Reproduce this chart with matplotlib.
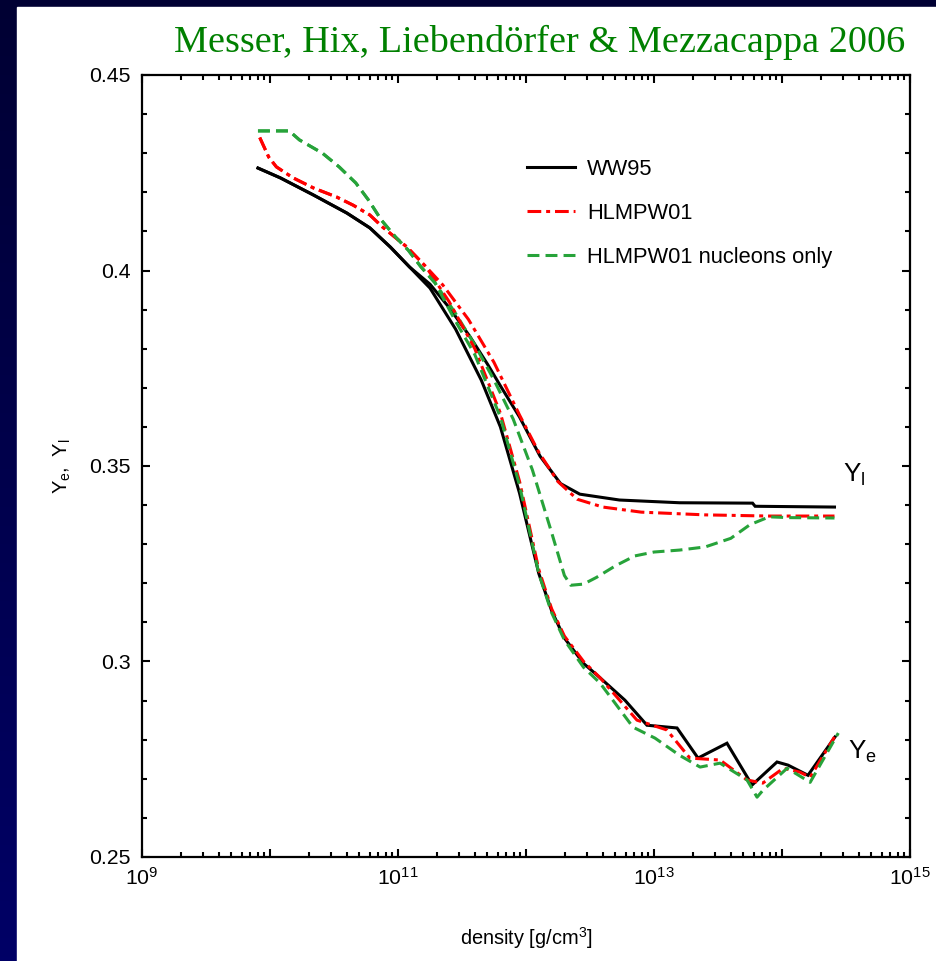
import matplotlib
matplotlib.use("Agg")
import matplotlib.pyplot as plt
import numpy as np
from matplotlib import font_manager, ticker

# Y_e / Y_l versus central density
ww95_yl_logrho = [9.906, 10.08, 10.34, 10.60, 10.78, 10.94, 11.09, 11.25, 11.4, 11.56, 11.7, 11.8, 11.95,
                  12.11, 12.27, 12.42, 12.73, 13.2, 13.77, 13.79, 14.41]
ww95_yl = [0.4262, 0.4237, 0.4193, 0.4147, 0.4109, 0.406, 0.4009, 0.3965, 0.3905, 0.3832, 0.376, 0.3705, 0.3625,
           0.3525, 0.3455, 0.3428, 0.3413, 0.3406, 0.3405, 0.3397, 0.3395]

ww95_ye_logrho = [9.906, 10.08, 10.34, 10.60, 10.78, 10.94, 11.09, 11.25, 11.45, 11.65, 11.8, 11.95, 12.1,
                  12.2, 12.3, 12.45, 12.58, 12.773, 12.945, 13.18, 13.344, 13.57, 13.766, 13.961, 14.047,
                  14.203, 14.414]
ww95_ye = [0.4262, 0.4237, 0.4193, 0.4147, 0.4109, 0.406, 0.4009, 0.3955, 0.385, 0.372, 0.36, 0.343, 0.3225,
           0.313, 0.306, 0.2995, 0.2958, 0.2901, 0.2837, 0.2830, 0.2753, 0.2791, 0.2684, 0.2743, 0.2735,
           0.2709, 0.2807]

hlm_yl_logrho = [9.92, 9.99, 10.05, 10.18, 10.34, 10.52, 10.65, 10.78, 10.88, 11.07, 11.22, 11.35, 11.55,
                 11.75, 11.95, 12.1, 12.25, 12.4, 12.6, 12.9, 13.4, 13.9, 14.41]
hlm_yl = [0.434, 0.429, 0.4265, 0.4237, 0.4211, 0.4188, 0.4167, 0.4142, 0.4111, 0.406, 0.4009, 0.3963, 0.3875,
          0.3765, 0.363, 0.3535, 0.346, 0.3415, 0.3395, 0.3382, 0.3375, 0.3372, 0.3372]

hlm_ye_logrho = [9.92, 9.99, 10.05, 10.18, 10.34, 10.52, 10.65, 10.78, 10.88, 11.07, 11.22, 11.4, 11.6,
                 11.8, 11.95, 12.1, 12.2, 12.3, 12.45, 12.58, 12.867, 13.1, 13.28, 13.516, 13.727, 13.85,
                 14.01, 14.14, 14.22, 14.41]
hlm_ye = [0.434, 0.429, 0.4265, 0.4237, 0.4211, 0.4188, 0.4167, 0.4142, 0.4111, 0.406, 0.4009, 0.392, 0.380,
          0.3635, 0.346, 0.3235, 0.3135, 0.3065, 0.300, 0.2958, 0.285, 0.2825, 0.2753, 0.2748, 0.2697, 0.2689,
          0.2727, 0.2717, 0.2704, 0.2807]

nuc_yl_logrho = [9.906, 10.15, 10.23, 10.41, 10.54, 10.67, 10.77, 10.87, 10.98, 11.08, 11.18, 11.29, 11.45,
                 11.6, 11.75, 11.9, 12.05, 12.2, 12.3, 12.35, 12.45, 12.55, 12.7, 12.85, 13.0, 13.2, 13.4,
                 13.6, 13.75, 13.9, 14.05, 14.41]
nuc_yl = [0.4357, 0.4357, 0.4334, 0.43, 0.4265, 0.4224, 0.418, 0.4129, 0.4086, 0.4052, 0.4009, 0.3968, 0.389,
          0.381, 0.372, 0.362, 0.349, 0.333, 0.322, 0.3195, 0.3198, 0.3215, 0.3245, 0.327, 0.328, 0.3285,
          0.3293, 0.3315, 0.335, 0.337, 0.3368, 0.3367]

nuc_ye_logrho = [9.906, 10.15, 10.23, 10.41, 10.54, 10.67, 10.77, 10.87, 10.98, 11.08, 11.18, 11.29, 11.45,
                 11.6, 11.8, 11.95, 12.1, 12.2, 12.3, 12.45, 12.578, 12.836, 13.008, 13.2, 13.36, 13.516,
                 13.727, 13.805, 13.852, 14.04, 14.22, 14.44]
nuc_ye = [0.4357, 0.4357, 0.4334, 0.43, 0.4265, 0.4224, 0.418, 0.4129, 0.4086, 0.4052, 0.4009, 0.3968, 0.387,
          0.3785, 0.3625, 0.345, 0.3225, 0.3125, 0.3055, 0.2985, 0.2945, 0.2832, 0.2804, 0.276, 0.273, 0.274,
          0.2697, 0.2653, 0.2671, 0.2727, 0.2691, 0.2817]

labels = ["WW95", "HLMPW01", "HLMPW01 nucleons only"]
title = "Messer, Hix, Liebendörfer & Mezzacappa 2006"

# narrow Helvetica look if available
installed = {f.name for f in font_manager.fontManager.ttflist}
if "Liberation Sans Narrow" in installed:
    sans, scale = "Liberation Sans Narrow", 1.0
else:
    sans, scale = "Liberation Sans", 0.85
plt.rcParams["font.family"] = [sans, "DejaVu Sans"]

fig = plt.figure(figsize=(9.36, 9.61), dpi=100)

# dark blue slide background with white panel
bg = fig.add_axes([0, 0, 1, 1])
grad = np.linspace(0, 1, 256)[:, None]
bg.imshow(grad, aspect="auto", extent=[0, 1, 0, 1], origin="upper",
          cmap=matplotlib.colors.LinearSegmentedColormap.from_list("bg", ["#000033", "#000066"]))
bg.add_patch(plt.Rectangle((17 / 936, 0), 1, 1 - 7 / 961, color="white"))
bg.set_xlim(0, 1)
bg.set_ylim(0, 1)
bg.axis("off")

ax = fig.add_axes([142 / 936, 104 / 961, 768 / 936, 782 / 961])

black_kw = dict(color="black", lw=2.2, solid_joinstyle="miter")
red_kw = dict(color="#ff0000", lw=2.2, ls=(0, (4.5, 1.6, 1.3, 1.6)))
green_kw = dict(color="#27a33a", lw=2.2, ls=(0, (3.9, 2.0)))

ax.plot(np.power(10.0, ww95_yl_logrho), ww95_yl, label=labels[0], **black_kw)
ax.plot(np.power(10.0, hlm_yl_logrho), hlm_yl, label=labels[1], **red_kw)
ax.plot(np.power(10.0, nuc_yl_logrho), nuc_yl, label=labels[2], **green_kw)
ax.plot(np.power(10.0, ww95_ye_logrho), ww95_ye, **black_kw)
ax.plot(np.power(10.0, hlm_ye_logrho), hlm_ye, **red_kw)
ax.plot(np.power(10.0, nuc_ye_logrho), nuc_ye, **green_kw)

ax.set_xscale("log")
ax.set_xlim(1e9, 1e15)
ax.set_ylim(0.25, 0.45)


def decade_label(v, pos):
    e = int(round(np.log10(v)))
    if 9 <= e <= 15 and e % 2:
        return r"$\mathregular{10^{%d}}$" % e
    return ""


ax.xaxis.set_major_locator(ticker.FixedLocator(np.power(10.0, np.arange(9, 16))))
ax.xaxis.set_minor_locator(ticker.LogLocator(base=10, subs=np.arange(2, 10), numticks=20))
ax.xaxis.set_major_formatter(ticker.FuncFormatter(decade_label))
ax.xaxis.set_minor_formatter(ticker.NullFormatter())
ax.yaxis.set_major_locator(ticker.MultipleLocator(0.05))
ax.yaxis.set_minor_locator(ticker.MultipleLocator(0.01))
ax.yaxis.set_major_formatter(ticker.FuncFormatter(lambda v, p: "%g" % round(v, 2)))

ax.tick_params(which="both", direction="in", top=True, right=True, width=1.5, labelsize=18 * scale)
ax.tick_params(which="major", length=6)
ax.tick_params(which="minor", length=3.5)
ax.tick_params(axis="y", pad=8)
ax.tick_params(axis="x", pad=7)
for s in ax.spines.values():
    s.set_linewidth(1.6)

ax.set_xlabel(r"density [g/cm$\mathregular{^3}$]", fontsize=17 * scale, labelpad=26)
ax.set_ylabel(r"$\mathregular{Y_e,\ Y_l}$", fontsize=17 * scale, labelpad=12)

ax.text(10 ** 14.477, 0.3477, r"$\mathregular{Y_l}$", fontsize=22 * scale, va="center", ha="left")
ax.text(10 ** 14.516, 0.2768, r"$\mathregular{Y_e}$", fontsize=22 * scale, va="center", ha="left")

ax.legend(loc="upper left", bbox_to_anchor=(0.501, 0.893), frameon=False, fontsize=18.5 * scale,
          borderpad=0, borderaxespad=0, handlelength=2.2, handletextpad=0.55, labelspacing=1.05)

fig.text(540 / 936, 1 - 52 / 961, title, family="Liberation Serif", color="#008000",
         fontsize=27.5, ha="center", va="baseline")

fig.savefig("out.png", dpi=100)
